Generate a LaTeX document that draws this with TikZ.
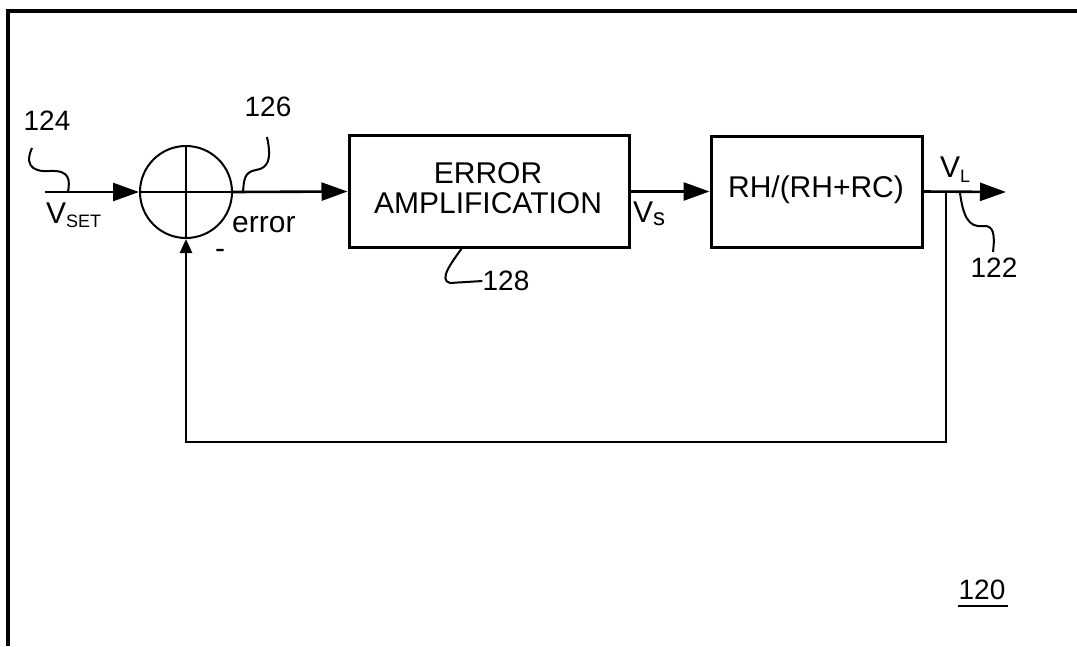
\documentclass[tikz,border=0pt]{standalone}
\usepackage{fontspec}
\setmainfont{Liberation Sans}
\usetikzlibrary{arrows.meta}
\begin{document}
\begin{tikzpicture}[x=1pt,y=-1pt,
  lbl/.style={font=\fontsize{30}{30}\selectfont, inner sep=0pt},
  num/.style={font=\fontsize{28}{30}\selectfont, inner sep=0pt},
  blk/.style={draw, line width=3pt, inner sep=0pt},
  sig/.style={line width=2.6pt},
  arr/.style={sig, -{Triangle[length=26pt,width=18pt]}},
  lead/.style={line width=2pt},
]
\useasboundingbox (0,0) rectangle (1077,646);
% frame
\draw[line width=4pt] (8,646) -- (8,11) -- (1077,11);

% summing junction
\node[circle, draw, line width=2pt, minimum size=92pt, inner sep=0pt] (sum) at (186,192) {};
\draw[line width=1.8pt] (sum.north) -- (sum.south) (sum.west) -- (sum.east);

% blocks
\node[blk, minimum width=280pt, minimum height=112pt] (amp) at (489,191.5) {};
\node[lbl, align=center] (amptext) at (488,188) {ERROR\\AMPLIFICATION};
\node[blk, minimum width=211pt, minimum height=111pt] (plant) at (816.5,191.5) {};
\node[lbl] (planttext) at (816,190) {RH/(RH+RC)};

% signal path
\coordinate (in) at (45,192);
\coordinate (out) at (1006,192);
\coordinate (j) at (946,192);
\coordinate (fb) at (946,442);
\draw[arr] (in) -- (sum.west);
\draw[arr] (sum.east) -- (amp.west);
\draw[arr] (amp.east) -- (plant.west);
\draw[arr] (plant.east) -- (out);
\draw[sig, -{Triangle[length=14pt,width=12pt]}] (j) -- (fb) -- (sum.south |- fb) -- (sum.south);

% signal labels
\node[lbl, anchor=base west] (vset) at (46,223) {V{\fontsize{18}{18}\selectfont\raisebox{-4pt}{SET}}};
\node[lbl, anchor=base west] (err) at (232,232) {error};
\node[lbl, anchor=base] (minus) at (220,258) {-};
\node[lbl, anchor=base west] (vs) at (633,222) {V{\fontsize{24}{24}\selectfont\raisebox{-3pt}{s}}};
\node[lbl, anchor=base west] (vl) at (940,177) {V{\fontsize{18}{18}\selectfont\raisebox{-5pt}{L}}};

% reference numbers and leaders
\node[num] (n124) at (47,121) {124};
\draw[lead] (32,148) .. controls (22,170) and (40,172) .. (50,171) .. controls (70,170) and (70,180) .. (68,192);
\node[num] (n126) at (268,107) {126};
\draw[lead] (267,137) .. controls (272,160) and (268,168) .. (256,170) .. controls (244,172) and (244,180) .. (243,192);
\node[num] (n128) at (506,281) {128};
\draw[lead] (462,248) .. controls (452,262) and (438,280) .. (450,283) -- (n128.west);
\node[num] (n122) at (994,268) {122};
\draw[lead] (960,193) .. controls (963,215) and (968,228) .. (983,226) .. controls (994,225) and (995,235) .. (993,252);
\node[num] (n120) at (982,590) {120};
\draw[line width=2pt] (n120.south west) ++(0,6) -- ++(50,0);
\end{tikzpicture}
\end{document}
